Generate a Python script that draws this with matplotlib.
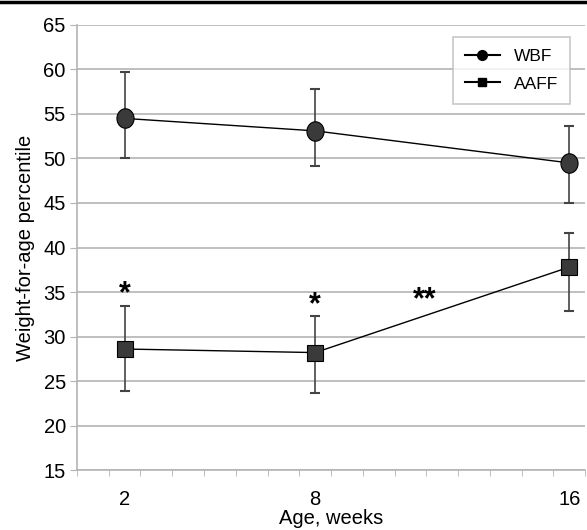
import matplotlib
matplotlib.use("Agg")
import numpy as np
import matplotlib.pyplot as plt
from matplotlib.lines import Line2D
from matplotlib.path import Path
from matplotlib.ticker import FixedLocator

plt.rcParams["font.family"] = ["Liberation Sans", "DejaVu Sans"]

weeks = [2, 8, 16]
wbf_mean = [54.5, 53.1, 49.5]
wbf_low = [50.1, 49.1, 45.0]
wbf_high = [59.7, 57.8, 53.7]
aaff_mean = [28.6, 28.2, 37.8]
aaff_low = [23.9, 23.7, 32.9]
aaff_high = [33.4, 32.3, 41.6]

# significance marks: (x, y, text)
stars = [(2, 34.8, "*"), (8, 33.5, "*"), (11.45, 34.1, "**")]

grid_col = "#b4b4b4"
fill_col = "#3a3a3a"

# the circles in the original are a bit taller than wide
t = np.linspace(0, 2 * np.pi, 60)
ellipse = Path(np.column_stack([0.88 * np.cos(t), np.sin(t)]), closed=True)

fig = plt.figure(figsize=(5.87, 5.30), dpi=100)
ax = fig.add_axes([0.131, 0.113, 0.866, 0.84])

for mean, low, high, marker, ms in [
    (wbf_mean, wbf_low, wbf_high, ellipse, 14),
    (aaff_mean, aaff_low, aaff_high, "s", 12),
]:
    yerr = [[m - l for m, l in zip(mean, low)], [h - m for m, h in zip(mean, high)]]
    ax.errorbar(weeks, mean, yerr=yerr, fmt="none", ecolor="#444444",
                elinewidth=1.2, capsize=3.5, capthick=1.5, zorder=2)
    ax.plot(weeks, mean, color="black", lw=1, marker=marker, ms=ms,
            markerfacecolor=fill_col, markeredgecolor="black", markeredgewidth=0.8,
            zorder=3)

for x, y, txt in stars:
    ax.text(x, y, txt, ha="center", va="center", fontsize=22,
            fontweight="bold", color="black")

ax.set_xlim(0.5, 16.5)
ax.set_ylim(15, 65)
ax.set_yticks(range(15, 66, 5))
ax.set_xticks(weeks)
ax.xaxis.set_minor_locator(FixedLocator([i + 0.5 for i in range(17)]))
ax.tick_params(axis="x", which="major", length=0, labelsize=14.5, pad=14)
ax.tick_params(axis="x", which="minor", length=4, color=grid_col)
ax.tick_params(axis="y", length=5, color=grid_col, labelsize=14.5, pad=3)
ax.yaxis.grid(True, color=grid_col, lw=1.2)
ax.set_axisbelow(True)
for side in ["top", "right"]:
    ax.spines[side].set_visible(False)
for side in ["left", "bottom"]:
    ax.spines[side].set_color(grid_col)
    ax.spines[side].set_linewidth(1.2)

ax.set_xlabel("Age, weeks", fontsize=14.5, labelpad=0)
ax.set_ylabel("Weight-for-age percentile", fontsize=14.5, labelpad=6)

handles = [
    Line2D([], [], color="black", marker="o", ms=7, lw=1.5),
    Line2D([], [], color="black", marker="s", ms=6, lw=1.5),
]
leg = ax.legend(handles, ["WBF", "AAFF"], loc="upper right",
                bbox_to_anchor=(0.97, 0.973), borderaxespad=0, fontsize=12.5,
                frameon=True, fancybox=False, edgecolor="#bbbbbb",
                handlelength=2.0, borderpad=0.7, labelspacing=0.7)
leg.get_frame().set_linewidth(1.2)

fig.add_artist(Line2D([0, 1], [0.996, 0.996], color="black", lw=2.5,
                      transform=fig.transFigure))

fig.savefig("out.png", dpi=100)
